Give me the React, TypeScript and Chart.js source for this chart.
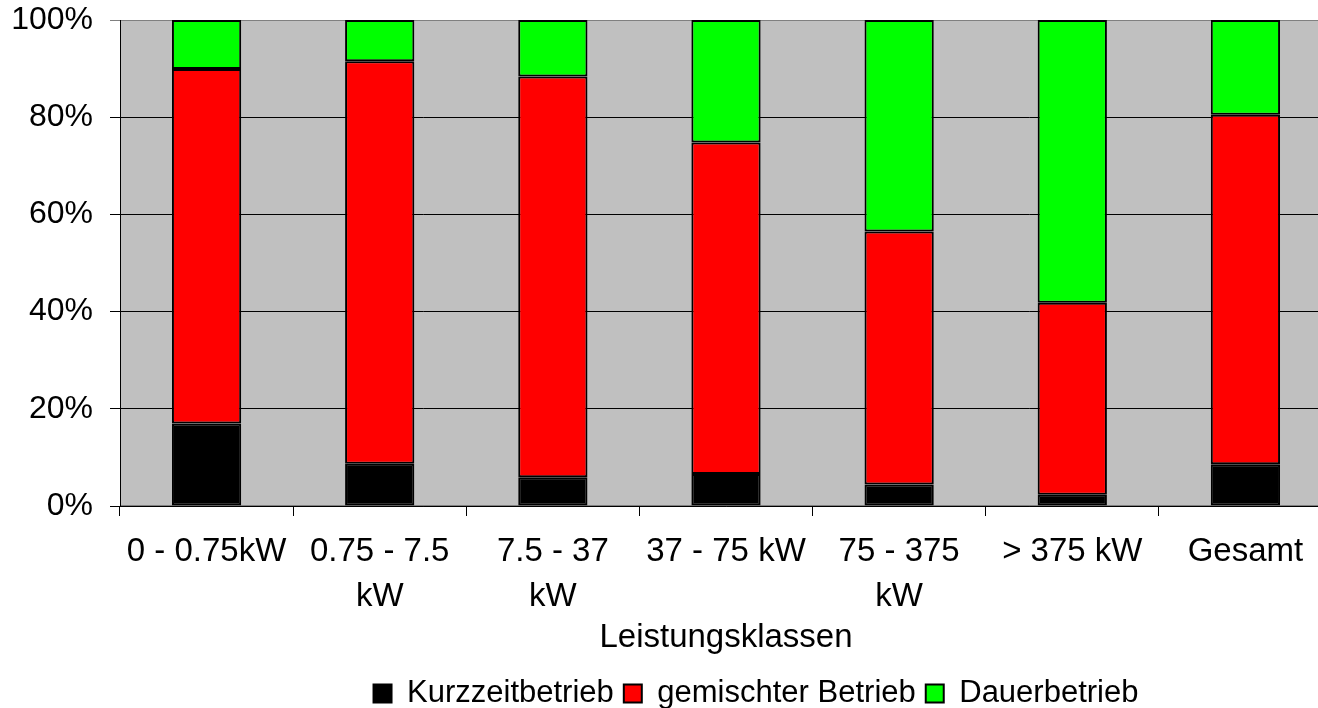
import React, { useEffect, useRef } from "react";
import { Chart, registerables } from "chart.js";

Chart.register(...registerables);

const categories: string[][] = [
  ["0 - 0.75kW"],
  ["0.75 - 7.5", "kW"],
  ["7.5 - 37", "kW"],
  ["37 - 75 kW"],
  ["75 - 375", "kW"],
  ["> 375 kW"],
  ["Gesamt"],
];
const kurzzeit = [17.0, 8.7, 5.9, 6.6, 4.4, 2.3, 8.6];
const gemischt = [72.9, 82.8, 82.5, 68.2, 52.1, 39.5, 71.9];
const dauer = [10.1, 8.5, 11.6, 25.2, 43.5, 58.2, 19.5];
const seriesNames = ["Kurzzeitbetrieb", "gemischter Betrieb", "Dauerbetrieb"];
const axisTitle = "Leistungsklassen";

const FONT = "'Liberation Sans', Arial, sans-serif";
const CANVAS_W = 1332;
const CANVAS_H = 719;
const LEGEND_CENTER_X = 756;

const plotBg = {
  id: "plotBg",
  beforeDraw(chart: any) {
    const { ctx, chartArea } = chart;
    const { left, top, right, bottom } = chartArea;
    ctx.save();
    ctx.fillStyle = "#C0C0C0";
    ctx.fillRect(left, top, right - left, bottom - top);
    ctx.strokeStyle = "#808080";
    ctx.lineWidth = 1;
    ctx.strokeRect(left + 0.5, top + 0.5, right - left - 1, bottom - top - 1);
    ctx.restore();
  },
};

const legendShift = {
  id: "legendShift",
  afterLayout(chart: any) {
    const lg = chart.legend;
    if (!lg) return;
    const dx = LEGEND_CENTER_X - (lg.left + lg.right) / 2;
    lg.left += dx;
    lg.right += dx;
  },
};

export default function App() {
  const ref = useRef<HTMLCanvasElement>(null);
  useEffect(() => {
    if (!ref.current) return;
    const chart = new Chart(ref.current, {
      type: "bar",
      data: {
        labels: categories,
        datasets: [
          { label: seriesNames[0], data: kurzzeit, backgroundColor: "#000000" },
          { label: seriesNames[1], data: gemischt, backgroundColor: "#FF0000" },
          { label: seriesNames[2], data: dauer, backgroundColor: "#00FF00" },
        ].map((d) => ({
          ...d,
          borderColor: "#000000",
          borderWidth: 2,
          borderSkipped: false,
          categoryPercentage: 1,
          barPercentage: 0.4,
        })),
      },
      options: {
        responsive: false,
        animation: false,
        layout: { padding: { top: 20, right: 0, bottom: 0, left: 0 } },
        plugins: {
          tooltip: { enabled: false },
          legend: {
            position: "bottom",
            labels: {
              color: "#000",
              font: { family: FONT, size: 31 },
              boxWidth: 18,
              boxHeight: 18,
              padding: 10,
            },
          },
        },
        scales: {
          x: {
            stacked: true,
            afterFit: (s: any) => {
              s.height = 162;
              s.paddingLeft = 0;
              s.paddingRight = 0;
            },
            grid: {
              offset: true,
              drawOnChartArea: false,
              drawTicks: true,
              tickLength: 10,
              color: "#000",
            },
            border: { display: true, color: "#000", width: 1 },
            ticks: {
              color: "#000",
              font: { family: FONT, size: 33, lineHeight: 1.35 },
              maxRotation: 0,
              autoSkip: false,
              padding: 14,
            },
            title: {
              display: true,
              text: axisTitle,
              color: "#000",
              font: { family: FONT, size: 33 },
              padding: { top: 0, bottom: 10 },
            },
          },
          y: {
            stacked: true,
            min: 0,
            max: 100,
            afterFit: (s: any) => {
              s.width = 120;
              s.paddingTop = 0;
              s.paddingBottom = 0;
            },
            ticks: {
              stepSize: 20,
              color: "#000",
              font: { family: FONT, size: 32 },
              padding: 17,
              callback: (v: any) => v + "%",
            },
            grid: {
              color: (c: any) => (c.tick && c.tick.value === 100 ? "#808080" : "#000"),
              lineWidth: 1,
              tickLength: 10,
              drawTicks: true,
            },
            border: { display: true, color: "#000", width: 1 },
          },
        },
      },
      plugins: [plotBg, legendShift],
    });
    return () => chart.destroy();
  }, []);
  return (
    <div
      style={{
        position: "absolute",
        left: 0,
        top: 0,
        width: 1318,
        height: 708,
        overflow: "hidden",
        background: "#fff",
      }}
    >
      <canvas
        ref={ref}
        width={CANVAS_W}
        height={CANVAS_H}
        style={{ width: CANVAS_W, height: CANVAS_H }}
      />
    </div>
  );
}
